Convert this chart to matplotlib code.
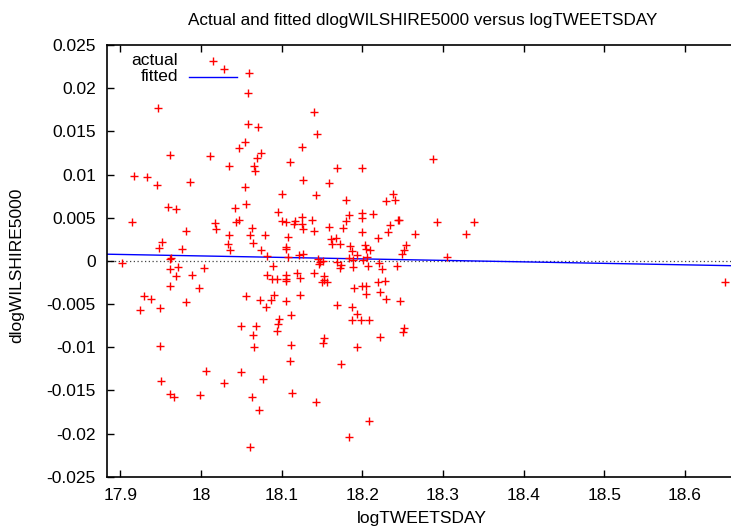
import matplotlib
matplotlib.use('Agg')
import matplotlib.pyplot as plt
from matplotlib.ticker import FormatStrFormatter

plt.rcParams['font.family'] = ['Liberation Sans', 'DejaVu Sans']
plt.rcParams['axes.unicode_minus'] = False

# actual observations (logTWEETSDAY, dlogWILSHIRE5000)
log_tweets = [
    18.029, 18.059, 18.058, 17.947, 18.140, 18.144, 18.058, 18.071, 18.055, 18.125,
    18.047, 18.075, 17.962, 18.011, 18.069, 18.110, 18.035, 18.066, 18.067, 17.917,
    17.933, 18.127, 17.986, 17.945, 18.054, 18.100, 18.143, 18.056, 17.959, 17.969,
    18.042, 18.095, 18.125, 18.138, 18.100, 18.105, 17.915, 18.017, 18.044, 18.047,
    18.115, 18.117, 18.125, 18.063, 18.018, 18.126, 17.981, 18.140, 18.061, 18.035,
    18.108, 18.079, 17.952, 18.064, 18.033, 17.948, 17.976, 18.105, 18.106, 18.036,
    18.074, 18.082, 18.108, 18.122, 18.126, 17.963, 17.961, 17.902, 17.962, 17.972,
    18.004, 18.089, 18.168, 18.200, 18.159, 18.288, 18.180, 18.238, 18.229, 18.240,
    18.183, 18.180, 18.199, 18.200, 18.213, 18.159, 18.176, 18.200, 18.234, 18.244,
    18.246, 18.293, 18.339, 18.329, 18.232, 18.219, 18.265, 18.161, 18.167, 18.163,
    18.172, 18.185, 18.187, 18.203, 18.204, 18.209, 18.254, 18.252, 18.249, 18.305,
    18.193, 18.184, 18.189, 18.206, 18.201, 18.145, 18.148, 18.146, 18.151, 18.168,
    18.173, 18.172, 18.188, 18.207, 18.221, 18.224, 18.243, 17.969, 17.989, 17.962,
    17.997, 17.929, 17.938, 17.924, 17.949, 17.981, 17.949, 17.951, 17.962, 17.967,
    18.006, 17.999, 18.029, 18.049, 18.049, 18.056, 18.064, 18.066, 18.068, 18.063,
    18.072, 18.077, 18.061, 18.073, 18.080, 18.087, 18.091, 18.082, 18.088, 18.094,
    18.105, 18.105, 18.105, 18.105, 18.097, 18.095, 18.094, 18.111, 18.112, 18.110,
    18.113, 18.119, 18.123, 18.123, 18.140, 18.143, 18.152, 18.152, 18.156, 18.150,
    18.190, 18.200, 18.204, 18.204, 18.219, 18.228, 18.222, 18.229, 18.247, 18.169,
    18.187, 18.194, 18.187, 18.198, 18.208, 18.252, 18.250, 18.153, 18.151, 18.222,
    18.193, 18.173, 18.208, 18.184, 18.650,
]
dlog_wilshire = [
    0.0222, 0.0218, 0.0194, 0.0177, 0.0172, 0.0147, 0.0159, 0.0155, 0.0138, 0.0132,
    0.0131, 0.0125, 0.0123, 0.0122, 0.0119, 0.0114, 0.0110, 0.0110, 0.0104, 0.0098,
    0.0097, 0.0094, 0.0091, 0.0088, 0.0086, 0.0077, 0.0076, 0.0066, 0.0062, 0.0060,
    0.0061, 0.0057, 0.0051, 0.0047, 0.0046, 0.0045, 0.0045, 0.0044, 0.0045, 0.0047,
    0.0043, 0.0046, 0.0043, 0.0038, 0.0037, 0.0037, 0.0034, 0.0034, 0.0030, 0.0030,
    0.0028, 0.0030, 0.0022, 0.0021, 0.0020, 0.0015, 0.0014, 0.0016, 0.0014, 0.0013,
    0.0012, 0.0006, 0.0005, 0.0007, 0.0008, 0.0003, 0.0002, -0.0003, -0.0009, -0.0007,
    -0.0008, -0.0006, 0.0108, 0.0108, 0.0090, 0.0118, 0.0070, 0.0077, 0.0069, 0.0070,
    0.0053, 0.0046, 0.0055, 0.0050, 0.0054, 0.0039, 0.0038, 0.0033, 0.0042, 0.0047,
    0.0047, 0.0045, 0.0045, 0.0031, 0.0033, 0.0027, 0.0031, 0.0025, 0.0026, 0.0019,
    0.0020, 0.0017, 0.0011, 0.0018, 0.0014, 0.0012, 0.0018, 0.0012, 0.0008, 0.0005,
    0.0007, 0.0003, 0.0001, 0.0005, 0.0001, 0.0002, -0.0001, -0.0004, 0.0000, -0.0001,
    -0.0005, -0.0008, -0.0007, -0.0006, -0.0002, -0.0010, -0.0006, -0.0017, -0.0016, -0.0029,
    -0.0032, -0.0041, -0.0044, -0.0057, -0.0055, -0.0048, -0.0099, -0.0139, -0.0154, -0.0158,
    -0.0127, -0.0155, -0.0141, -0.0129, -0.0076, -0.0041, -0.0086, -0.0100, -0.0075, -0.0158,
    -0.0173, -0.0137, -0.0216, -0.0045, -0.0054, -0.0045, -0.0040, -0.0016, -0.0021, -0.0021,
    -0.0016, -0.0021, -0.0023, -0.0047, -0.0067, -0.0073, -0.0081, -0.0063, -0.0097, -0.0116,
    -0.0153, -0.0014, -0.0020, -0.0039, -0.0014, -0.0164, -0.0018, -0.0022, -0.0024, -0.0025,
    -0.0032, -0.0029, -0.0029, -0.0038, -0.0024, -0.0023, -0.0036, -0.0044, -0.0047, -0.0051,
    -0.0054, -0.0061, -0.0069, -0.0069, -0.0069, -0.0078, -0.0082, -0.0089, -0.0095, -0.0088,
    -0.0100, -0.0119, -0.0185, -0.0204, -0.0025,
]

# fitted regression line (end points over the x range)
fit_x = [17.8835, 18.657]
fit_y = [0.00077, -0.00056]

x_ticks = [17.9, 18.0, 18.1, 18.2, 18.3, 18.4, 18.5, 18.6]
y_ticks = [-0.025, -0.02, -0.015, -0.01, -0.005, 0, 0.005, 0.01, 0.015, 0.02, 0.025]

FS = 12.5

fig = plt.figure(figsize=(7.31, 5.29), dpi=100)
ax = fig.add_axes([107 / 731, 1 - 476.7 / 529, 624 / 731, 431.7 / 529])

ax.axhline(0, color='#444444', linestyle=(0, (1, 2)), linewidth=0.9, zorder=1)
ax.plot(log_tweets, dlog_wilshire, linestyle='none', marker='+', color='red',
        markersize=6, markeredgewidth=1.0, zorder=3)
ax.plot(fit_x, fit_y, color='blue', linewidth=1.0, zorder=2)

ax.set_xlim(17.8835, 18.657)
ax.set_ylim(-0.025, 0.025)
ax.set_xticks(x_ticks)
ax.set_yticks(y_ticks)
ax.xaxis.set_major_formatter(FormatStrFormatter('%g'))
ax.yaxis.set_major_formatter(FormatStrFormatter('%g'))
ax.tick_params(direction='in', length=5, width=1, labelsize=FS, top=True, right=False, pad=8)
ax.spines['right'].set_visible(False)
for s in ['left', 'top', 'bottom']:
    ax.spines[s].set_linewidth(1.2)

# key
ax.text(0.1138, 0.964, 'actual', transform=ax.transAxes, ha='right', va='center', fontsize=FS)
ax.text(0.1138, 0.927, 'fitted', transform=ax.transAxes, ha='right', va='center', fontsize=FS)
ax.plot([0.170], [0.964], transform=ax.transAxes, marker='+', color='red',
        markersize=6, markeredgewidth=1.0, linestyle='none', clip_on=False)
ax.plot([0.1314, 0.2083], [0.927, 0.927], transform=ax.transAxes, color='blue', linewidth=1.0)

fig.text(423 / 731, 1 - 20 / 529, 'Actual and fitted dlogWILSHIRE5000 versus logTWEETSDAY',
         ha='center', va='center', fontsize=12.3)
fig.text(422 / 731, 1 - 519 / 529, 'logTWEETSDAY', ha='center', va='center', fontsize=FS)
fig.text(17 / 731, 1 - 265 / 529, 'dlogWILSHIRE5000', ha='center', va='center',
         rotation=90, fontsize=FS)

fig.savefig('out.png', dpi=100)
